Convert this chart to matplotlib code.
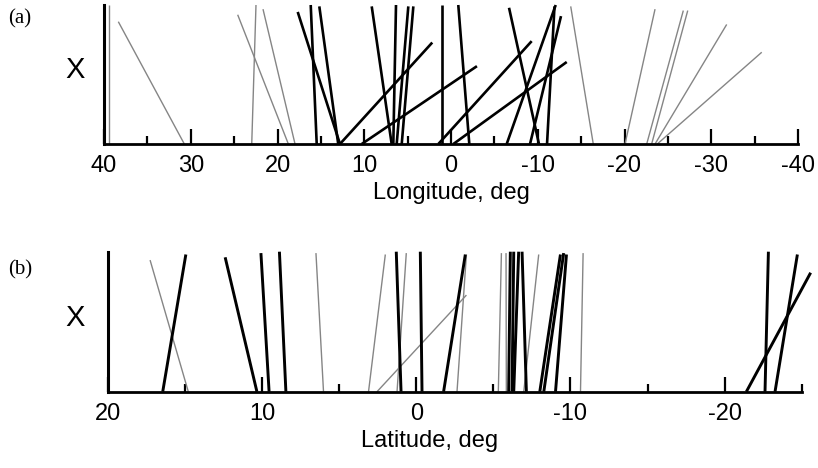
import matplotlib
matplotlib.use("Agg")
import matplotlib.pyplot as plt

plt.rcParams['axes.unicode_minus'] = False
plt.rcParams['font.family'] = ['Liberation Sans', 'DejaVu Sans']

# ---- Panel (a): longitude ----
lon_ticks = [40, 30, 20, 10, 0, -10, -20, -30, -40]
lon_black_bottom = [12.80, 15.48, 13.0, 12.80, 6.84, 6.65, 6.26, 5.68, 10.29, 0.98,
                    1.46, -2.11, -0.27, -10.14, -6.42, -9.11, -11.07]
lon_black_top = [17.67, 16.17, 15.18, 2.16, 9.14, 6.34, 4.92, 4.34, -2.99, 0.98,
                 -9.30, -0.84, -13.34, -6.69, -12.07, -12.68, -11.93]
lon_black_height = [0.95, 1.0, 0.99, 0.73, 0.99, 1.0, 0.99, 0.99, 0.56, 1.0,
                    0.74, 1.0, 0.59, 0.98, 1.0, 0.92, 0.99]
lon_gray_bottom = [39.45, 30.74, 22.97, 18.75, 17.98, -16.40, -20.06, -22.56, -23.13, -23.52, -23.78]
lon_gray_top = [39.45, 38.35, 22.48, 24.59, 21.67, -13.80, -23.52, -26.78, -27.29, -31.78, -35.82]
lon_gray_height = [1.0, 0.88, 1.0, 0.93, 0.97, 0.99, 0.97, 0.96, 0.96, 0.86, 0.66]

# ---- Panel (b): latitude ----
lat_ticks = [20, 10, 0, -10, -20]
lat_black_bottom = [16.45, 10.34, 9.55, 8.46, 0.99, -0.37, -1.77, -5.99, -6.21, -6.32,
                    -7.14, -8.01, -8.27, -9.03, -22.62, -23.27, -21.41]
lat_black_top = [14.95, 12.40, 10.08, 8.88, 1.30, -0.26, -3.18, -6.10, -6.32, -6.64,
                 -6.86, -9.35, -9.56, -9.74, -22.84, -24.72, -25.58]
lat_black_height = [0.98, 0.96, 0.99, 1.0, 1.0, 1.0, 0.98, 1.0, 1.0, 1.0,
                    1.0, 0.98, 0.99, 0.98, 1.0, 0.98, 0.85]
lat_gray_bottom = [14.79, 6.02, 3.10, 1.25, 2.55, -2.64, -5.32, -5.84, -6.97, -10.65]
lat_gray_top = [17.27, 6.51, 2.01, 0.65, -3.25, -3.25, -5.52, -5.82, -7.94, -10.82]
lat_gray_height = [0.94, 0.99, 0.98, 0.99, 0.69, 0.98, 0.99, 0.99, 0.98, 0.99]

W, H = 818, 468
fig = plt.figure(figsize=(W / 100, H / 100), dpi=100)

def px_axes(left, right, top, bottom):
    return fig.add_axes([left / W, (H - bottom) / H, (right - left) / W, (bottom - top) / H])

GRAY = '#858585'

def setup(ax, xlim, ticks, label):
    ax.set_xlim(*xlim)
    ax.set_ylim(0, 1)
    for s in ('top', 'right'):
        ax.spines[s].set_visible(False)
    ax.spines['bottom'].set_linewidth(2.0)
    ax.spines['left'].set_linewidth(2.2)
    ax.set_yticks([])
    ax.set_xticks(ticks)
    ax.set_xticklabels([str(t) for t in ticks])
    lo, hi = min(xlim), max(xlim)
    minors = [v for v in range(int(lo), int(hi) + 1) if v % 5 == 0 and v % 10 != 0]
    ax.set_xticks(minors, minor=True)
    ax.tick_params(axis='x', which='major', direction='in', length=10.5, width=1.6,
                   labelsize=17, pad=8)
    ax.tick_params(axis='x', which='minor', direction='in', length=5.5, width=1.6)
    ax.set_xlabel(label, fontsize=17)
    ax.set_ylabel('X', fontsize=21, rotation=0, va='center')

ax1 = px_axes(104, 798, 5, 144)
setup(ax1, (40, -40), lon_ticks, 'Longitude, deg')
for b, t, h in zip(lon_gray_bottom, lon_gray_top, lon_gray_height):
    ax1.plot([b, t], [0, h], color=GRAY, lw=1.0, clip_on=False, solid_capstyle='butt')
for b, t, h in zip(lon_black_bottom, lon_black_top, lon_black_height):
    ax1.plot([b, t], [0, h], color='black', lw=1.9, clip_on=False, solid_capstyle='butt')
ax1.yaxis.set_label_coords(-0.042, 0.53)
ax1.xaxis.set_label_coords(0.5, -0.27)

ax2 = px_axes(108, 801.7, 251.7, 391.7)
setup(ax2, (20, -25), lat_ticks, 'Latitude, deg')
for b, t, h in zip(lat_gray_bottom, lat_gray_top, lat_gray_height):
    ax2.plot([b, t], [0, h], color=GRAY, lw=1.0, clip_on=False, solid_capstyle='butt')
for b, t, h in zip(lat_black_bottom, lat_black_top, lat_black_height):
    ax2.plot([b, t], [0, h], color='black', lw=2.1, clip_on=False, solid_capstyle='butt')
ax2.yaxis.set_label_coords(-0.047, 0.53)
ax2.xaxis.set_label_coords(0.464, -0.27)

fig.text(8 / W, 1 - 19 / H, '(a)', fontsize=15, family='Liberation Serif', va='center', ha='left')
fig.text(8 / W, 1 - 270 / H, '(b)', fontsize=15, family='Liberation Serif', va='center', ha='left')

fig.savefig('out.png', dpi=100)
